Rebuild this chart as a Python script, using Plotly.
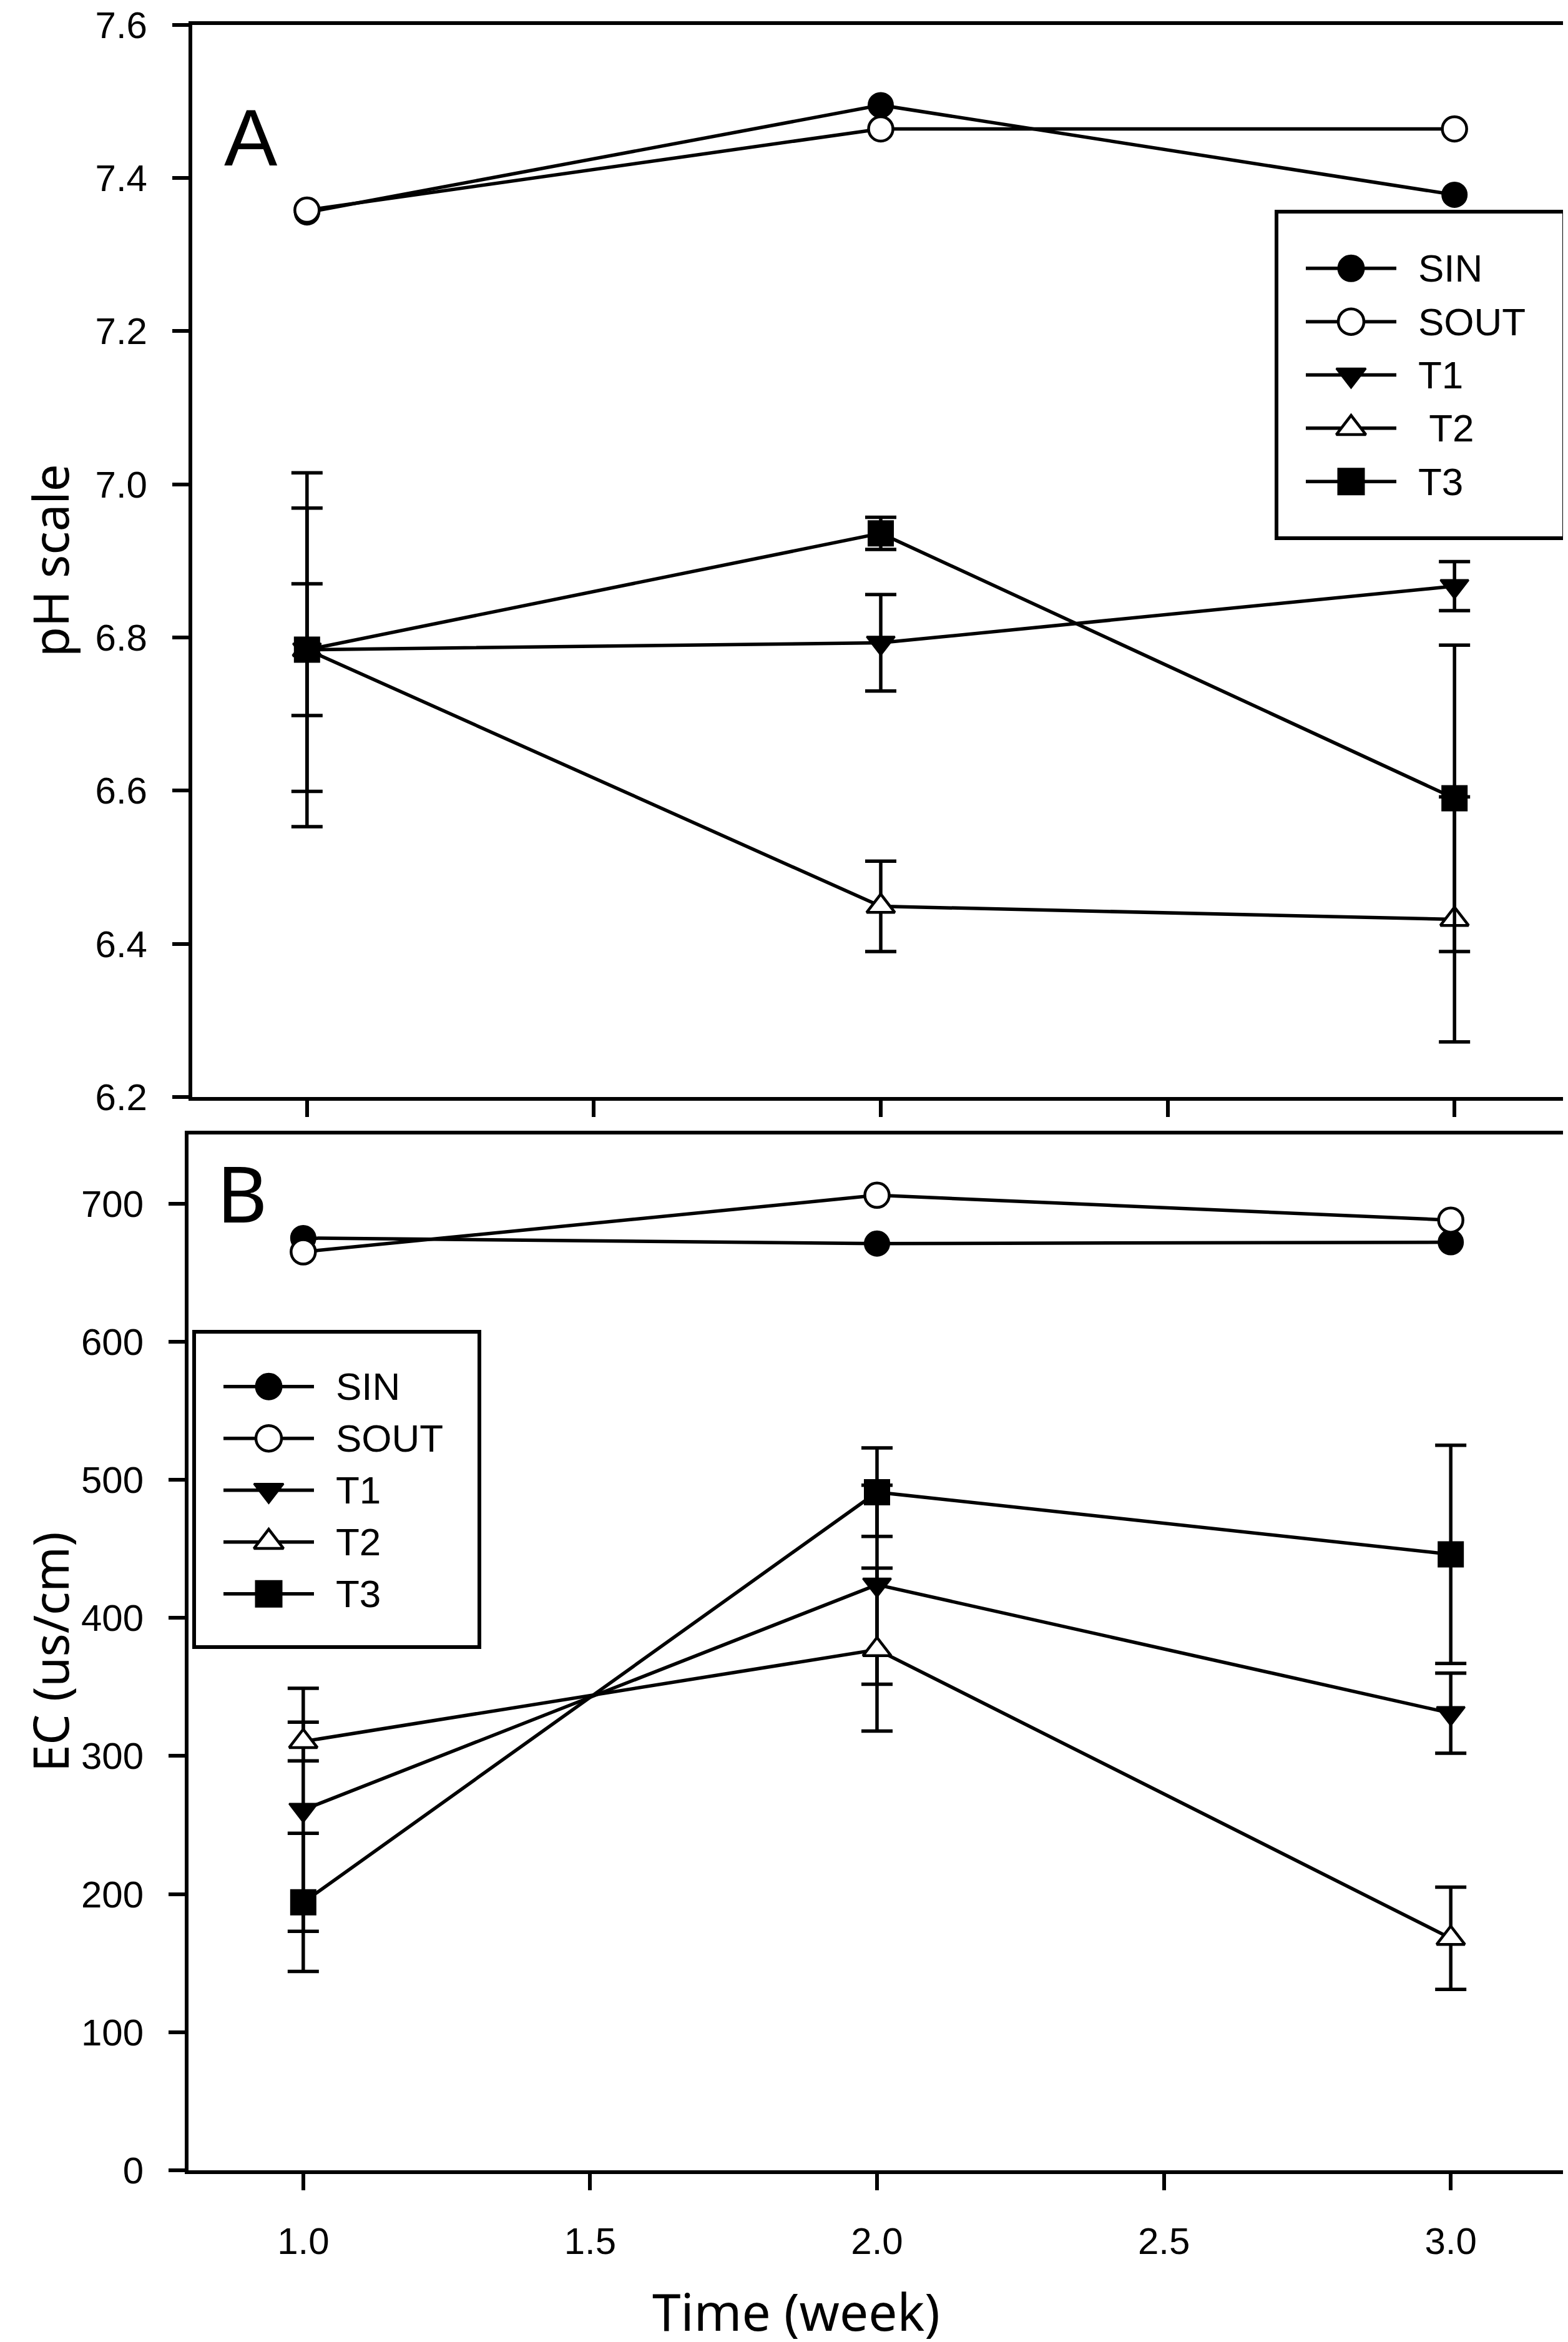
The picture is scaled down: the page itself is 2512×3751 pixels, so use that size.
import plotly.graph_objects as go

weeks = [1.0, 2.0, 3.0]

series_names_a = ["SIN", "SOUT", "T1", " T2", "T3"]
series_names_b = ["SIN", "SOUT", "T1", "T2", "T3"]

# Panel A: pH
ph_sin = [7.355, 7.495, 7.378]
ph_sout = [7.358, 7.464, 7.464]
ph_t1 = [6.784, 6.793, 6.867]
ph_t1_err = [0.086, 0.063, 0.032]
ph_t2 = [6.784, 6.449, 6.432]
ph_t2_err = [0.185, 0.059, 0.160]
ph_t3 = [6.784, 6.936, 6.590]
ph_t3_err = [0.231, 0.021, 0.200]

# Panel B: EC (us/cm)
ec_sin = [675, 671, 672]
ec_sout = [665, 706, 688]
ec_t1 = [261, 424, 331]
ec_t1_err = [88, 72, 29]
ec_t2 = [310.5, 377, 168]
ec_t2_err = [14, 59, 37]
ec_t3 = [194, 491, 446]
ec_t3_err = [50, 32, 79]

ph_ticks = [6.2, 6.4, 6.6, 6.8, 7.0, 7.2, 7.4, 7.6]
ec_ticks = [0, 100, 200, 300, 400, 500, 600, 700]
x_ticks = [1.0, 1.5, 2.0, 2.5, 3.0]

W, H = 2512, 3751
LW = 5.5
FRAME = 6
MS = 39
TICKFONT = dict(family="Liberation Sans, Arial", size=60, color="black")
TITLEFONT = dict(family="Noto Sans", size=78, color="black")
LEGFONT = dict(family="Liberation Sans, Arial", size=62, color="black")

styles = [
    dict(symbol="circle", color="black", line=dict(color="black", width=3)),
    dict(symbol="circle", color="white", line=dict(color="black", width=4.5)),
    dict(symbol="triangle-down", color="black", line=dict(color="black", width=3)),
    dict(symbol="triangle-up", color="white", line=dict(color="black", width=4.5)),
    dict(symbol="square", color="black", line=dict(color="black", width=3)),
]

fig = go.Figure()


def add_panel(ys, errs, names, xa, ya):
    for i, (y, e, nm) in enumerate(zip(ys, errs, names)):
        st = styles[i]
        kw = {}
        if e is not None:
            kw["error_y"] = dict(type="data", array=e, symmetric=True,
                                 color="black", thickness=LW, width=25)
        fig.add_trace(go.Scatter(
            x=weeks, y=y, name=nm.strip(), mode="lines+markers", showlegend=False,
            line=dict(color="black", width=LW),
            marker=dict(symbol=st["symbol"], size=MS, color=st["color"], line=st["line"]),
            xaxis=xa, yaxis=ya, **kw))


add_panel([ph_sin, ph_sout, ph_t1, ph_t2, ph_t3],
          [None, None, ph_t1_err, ph_t2_err, ph_t3_err],
          series_names_a, "x", "y")
add_panel([ec_sin, ec_sout, ec_t1, ec_t2, ec_t3],
          [None, None, ec_t1_err, ec_t2_err, ec_t3_err],
          series_names_b, "x2", "y2")

# Legend boxes drawn as small framed subplots (units: px inside the box, rows by index)
LEG_LINE = [44, 189]
LEG_MARK = [116.5]
LEG_TEXT = 222
annotations = []


def add_legend(names, xa, ya):
    for i, nm in enumerate(names):
        st = styles[i]
        fig.add_trace(go.Scatter(x=LEG_LINE, y=[i, i], mode="lines", showlegend=False,
                                 line=dict(color="black", width=LW), hoverinfo="skip",
                                 xaxis=xa, yaxis=ya))
        fig.add_trace(go.Scatter(x=LEG_MARK, y=[i], mode="markers", showlegend=False,
                                 marker=dict(symbol=st["symbol"], size=MS + 2,
                                             color=st["color"], line=st["line"]),
                                 hoverinfo="skip", xaxis=xa, yaxis=ya))
        label = nm.replace(" ", "\u00a0")
        annotations.append(dict(text=label, x=LEG_TEXT, y=i, xref=xa, yref=ya,
                                showarrow=False, xanchor="left", yanchor="middle",
                                font=LEGFONT))


add_legend(series_names_a, "x3", "y3")
add_legend(series_names_b, "x4", "y4")

axis_common = dict(showline=True, linecolor="black", linewidth=FRAME, mirror=True,
                   ticks="outside", ticklen=26, tickwidth=LW, tickcolor="black",
                   showgrid=False, zeroline=False, tickfont=TICKFONT,
                   ticklabeloverflow="allow", automargin=False)
leg_axis = dict(showline=True, linecolor="black", linewidth=FRAME, mirror=True,
                ticks="", showticklabels=False, showgrid=False, zeroline=False,
                fixedrange=True, automargin=False)

annotations += [
    dict(text="A", x=394 / W, y=1 - 213 / H, xref="paper", yref="paper",
         showarrow=False, xanchor="center", yanchor="middle",
         font=dict(family="Liberation Sans, Arial", size=128, color="black")),
    dict(text="B", x=379 / W, y=1 - 1901 / H, xref="paper", yref="paper",
         showarrow=False, xanchor="center", yanchor="middle",
         font=dict(family="Noto Sans", size=125, color="black")),
    dict(text="pH scale", x=72 / W, y=1 - 890 / H, xref="paper", yref="paper",
         showarrow=False, textangle=-90, xanchor="center", yanchor="middle",
         font=TITLEFONT),
    dict(text="EC (us/cm)", x=72 / W, y=1 - 2638 / H, xref="paper", yref="paper",
         showarrow=False, textangle=-90, xanchor="center", yanchor="middle",
         font=TITLEFONT),
    dict(text="Time (week)", x=1267 / W, y=0, xref="paper", yref="paper",
         showarrow=False, xanchor="center", yanchor="bottom",
         font=dict(family="Noto Sans", size=82, color="black")),
]

fig.update_layout(
    width=W, height=H,
    margin=dict(l=0, r=0, t=0, b=0, autoexpand=False),
    paper_bgcolor="white", plot_bgcolor="white",
    showlegend=False,
    xaxis=dict(domain=[300 / W, 2506 / W], range=[0.8, 3.2], anchor="y",
               tickvals=x_ticks, showticklabels=False, **axis_common),
    yaxis=dict(domain=[1 - 1749 / H, 1 - 31.6 / H], range=[6.2, 7.6000001], anchor="x",
               tickvals=ph_ticks, tickformat=".1f", ticklabelstandoff=28, **axis_common),
    xaxis2=dict(domain=[294 / W, 2500 / W], range=[0.8, 3.2], anchor="y2",
                tickvals=x_ticks, tickformat=".1f", ticklabelstandoff=30, **axis_common),
    yaxis2=dict(domain=[1 - 3468 / H, 1 - 1809 / H], range=[0, 750], anchor="x2",
                tickvals=ec_ticks, ticklabelstandoff=28, **axis_common),
    xaxis3=dict(domain=[2040 / W, 2495 / W], range=[0, 455], anchor="y3", **leg_axis),
    yaxis3=dict(domain=[1 - 851 / H, 1 - 334 / H], range=[5.03, -1.03], anchor="x3",
                **leg_axis),
    xaxis4=dict(domain=[306 / W, 757 / W], range=[0, 451], anchor="y4", **leg_axis),
    yaxis4=dict(domain=[1 - 2627 / H, 1 - 2128 / H], range=[4.99, -1.02], anchor="x4",
                **leg_axis),
    annotations=annotations,
)

fig.write_html("out.html")
